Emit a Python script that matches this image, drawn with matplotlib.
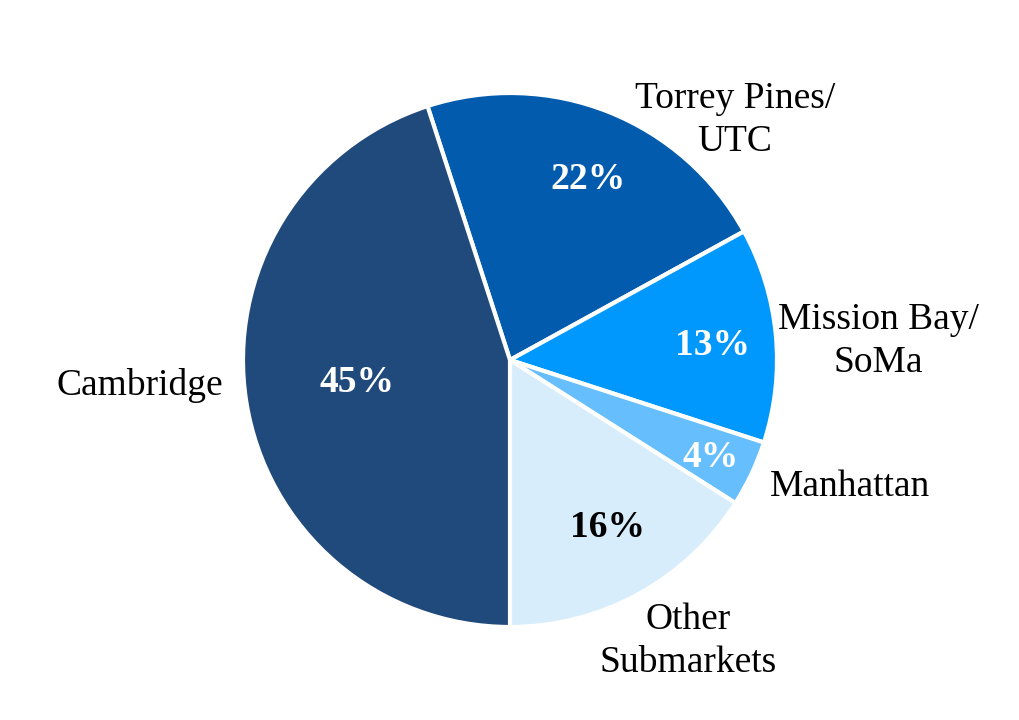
import numpy as np
import matplotlib
matplotlib.use("Agg")
import matplotlib.pyplot as plt

# data (clockwise from the top, Torrey Pines first)
labels = ["Torrey Pines/\nUTC", "Mission Bay/\nSoMa", "Manhattan", "Other\nSubmarkets", "Cambridge"]
shares = [22, 13, 4, 16, 45]
pct_text = ["22%", "13%", "4%", "16%", "45%"]

colors = ["#035BAE", "#0198FE", "#66BEFD", "#D7EDFC", "#214A7C"]
pct_colors = ["white", "white", "white", "black", "white"]
# (radius, angle offset in deg) for percent and name labels
pct_pos = [(0.735, -1.8), (0.762, -1.2), (0.835, -0.6), (0.727, 1.5), (0.58, -0.6)]
lab_pos = [(1.232, -21.6), (1.38, -2.45), (1.36, 4.8), (1.246, 3.6), (1.39, -5.0)]

plt.rcParams["font.family"] = ["Liberation Serif", "DejaVu Serif"]

fig = plt.figure(figsize=(10.2, 7.2), dpi=100)
R = 267
ax = fig.add_axes([(510 - R) / 1020, (360 - R) / 720, 2 * R / 1020, 2 * R / 720])

wedges, _ = ax.pie(shares, colors=colors, startangle=108, counterclock=False,
                   radius=1.0, wedgeprops=dict(edgecolor="white", linewidth=3))
ax.set_xlim(-1, 1)
ax.set_ylim(-1, 1)
ax.set_aspect("equal")
ax.axis("off")

for w, p, pc, (pr, pd), lab, (lr, ld) in zip(wedges, pct_text, pct_colors, pct_pos, labels, lab_pos):
    mid = np.deg2rad((w.theta1 + w.theta2) / 2 + pd)
    ax.text(pr * np.cos(mid), pr * np.sin(mid), p, ha="center", va="center",
            fontsize=27, fontweight="bold", color=pc)
    mid = np.deg2rad((w.theta1 + w.theta2) / 2 + ld)
    ax.text(lr * np.cos(mid), lr * np.sin(mid), lab, ha="center", va="center",
            fontsize=27, color="black", linespacing=1.32)

fig.savefig("out.png", dpi=100, facecolor="white")
